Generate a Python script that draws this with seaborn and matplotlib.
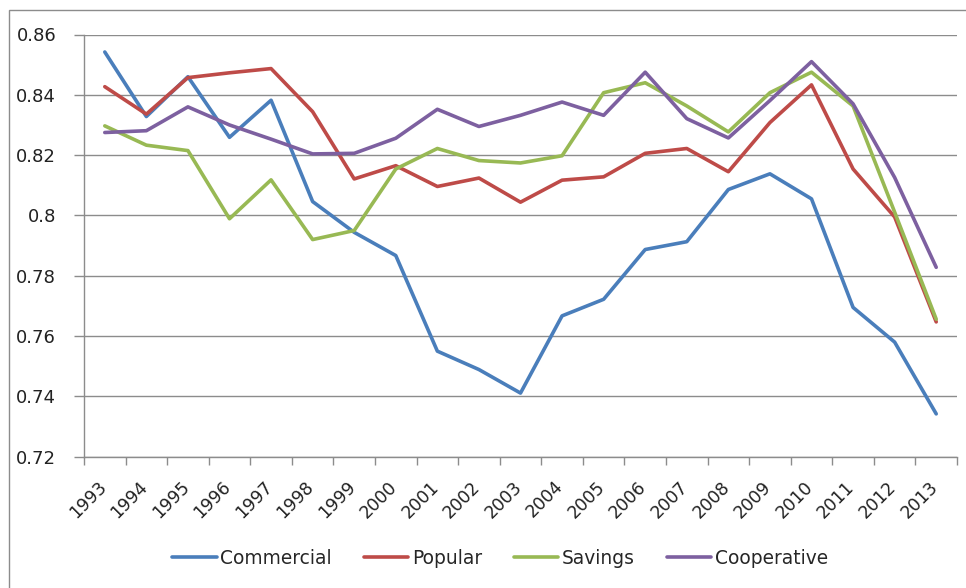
import matplotlib
matplotlib.use("Agg")
import matplotlib.pyplot as plt
import matplotlib.transforms as mtransforms
from matplotlib.patches import Rectangle
import numpy as np
import pandas as pd
import seaborn as sns

years = list(range(1993, 2014))
commercial = [0.8542, 0.8328, 0.8460, 0.8259, 0.8382, 0.8046, 0.7944, 0.7867, 0.7550, 0.7489,
              0.7411, 0.7667, 0.7722, 0.7887, 0.7913, 0.8086, 0.8138, 0.8055, 0.7695, 0.7580, 0.7342]
popular = [0.8427, 0.8336, 0.8457, 0.8473, 0.8487, 0.8344, 0.8121, 0.8165, 0.8096, 0.8124,
           0.8044, 0.8117, 0.8128, 0.8206, 0.8222, 0.8145, 0.8308, 0.8433, 0.8154, 0.7995, 0.7647]
savings = [0.8297, 0.8233, 0.8215, 0.7989, 0.8118, 0.7920, 0.7950, 0.8154, 0.8222, 0.8182,
           0.8174, 0.8198, 0.8407, 0.8440, 0.8363, 0.8277, 0.8407, 0.8475, 0.8363, 0.8011, 0.7656]
cooperative = [0.8275, 0.8281, 0.8360, 0.8300, 0.8253, 0.8204, 0.8206, 0.8256, 0.8352, 0.8295,
               0.8332, 0.8376, 0.8332, 0.8475, 0.8321, 0.8257, 0.8381, 0.8510, 0.8370, 0.8126, 0.7828]
series_names = ["Commercial", "Popular", "Savings", "Cooperative"]
colors = ["#4A7EBB", "#BE4B48", "#98B954", "#7D60A0"]
y_ticks = [0.72, 0.74, 0.76, 0.78, 0.80, 0.82, 0.84, 0.86]
y_tick_labels = ["0.72", "0.74", "0.76", "0.78", "0.8", "0.82", "0.84", "0.86"]

frames = []
for name, vals in zip(series_names, [commercial, popular, savings, cooperative]):
    frames.append(pd.DataFrame({"Year": years, "Value": vals, "Type": name}))
df = pd.concat(frames, ignore_index=True)

sns.set_theme(style="white")
plt.rcParams["font.family"] = ["DejaVu Sans"]

W, H = 966, 588
fig = plt.figure(figsize=(W / 100, H / 100), dpi=100)
ax = fig.add_axes([84 / W, 1 - 456.7 / H, (957 - 84) / W, (456.7 - 34.5) / H])

sns.lineplot(data=df, x="Year", y="Value", hue="Type", hue_order=series_names,
             palette=colors, linewidth=2.6, ax=ax, legend=True)

grid_c = "#8C8C8C"
ax.set_xlim(years[0] - 0.5, years[-1] + 0.5)
ax.set_ylim(0.72, 0.86)
ax.set_yticks(y_ticks)
ax.set_yticklabels(y_tick_labels, fontsize=13, color="#222222")
ax.yaxis.grid(True, color=grid_c, linewidth=1.0)
ax.xaxis.grid(False)
ax.set_xticks(years)
ax.set_xticklabels([str(y) for y in years], rotation=45, ha="right", va="top",
                   fontsize=12.5, color="#222222")
ax.set_xticks([y - 0.5 for y in years] + [years[-1] + 0.5], minor=True)
ax.tick_params(axis="x", which="major", length=0, pad=15)
ax.tick_params(axis="x", which="minor", length=6, width=1, color=grid_c, direction="out", bottom=True)
ax.tick_params(axis="y", which="major", length=7, width=1, color=grid_c, direction="out", left=True, pad=13)
offset = mtransforms.ScaledTranslation(5 / 100, 0, fig.dpi_scale_trans)
for lbl in ax.get_xticklabels():
    lbl.set_transform(lbl.get_transform() + offset)

for side in ["top", "right"]:
    ax.spines[side].set_visible(False)
for side in ["left", "bottom"]:
    ax.spines[side].set_color(grid_c)
    ax.spines[side].set_linewidth(1.0)
ax.set_xlabel("")
ax.set_ylabel("")

handles, labels = ax.get_legend_handles_labels()
ax.get_legend().remove()
fig.legend(handles, labels, loc="center", bbox_to_anchor=(500 / W, 1 - 558 / H),
           ncol=4, frameon=False, fontsize=13.4, handlelength=2.4, handletextpad=0.2,
           columnspacing=1.7)

fig.patches.append(Rectangle((8.5 / W, -0.1), 1.2, 1.1 - 10 / H, transform=fig.transFigure,
                             fill=False, edgecolor="#8C8C8C", linewidth=1.0))

fig.savefig("out.png", dpi=100)
